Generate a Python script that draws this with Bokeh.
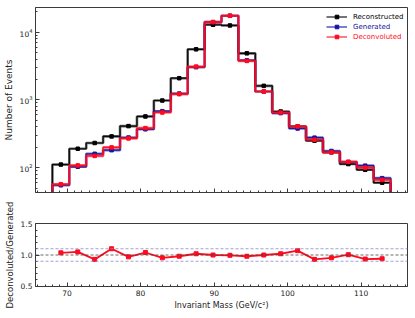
import numpy as np
from bokeh.plotting import figure
from bokeh.layouts import column
from bokeh.models import (Range1d, Span, Legend, LegendItem, FixedTicker, LogTicker,
                          PrintfTickFormatter, AllLabels)
from bokeh.embed import file_html
from bokeh.resources import INLINE

# ---- data ----
bin_edges = [68.0, 70.3, 72.6, 74.9, 77.2, 79.5, 81.8, 84.1, 86.4, 88.7, 91.0,
             93.3, 95.6, 97.9, 100.2, 102.5, 104.8, 107.1, 109.4, 111.7, 114.0]
reconstructed = [111, 190, 231, 289, 410, 569, 977, 2085, 5560, 12800,
                 12500, 4850, 1607, 673, 405, 250, 168, 113, 93, 60]
generated = [55, 103, 160, 181, 278, 368, 680, 1237, 3030, 14000,
             17400, 3830, 1327, 637, 378, 277, 176, 121, 107, 70]
deconvoluted = [57, 108, 149, 199, 270, 383, 650, 1212, 3090, 14000,
                17400, 3750, 1327, 650, 405, 258, 168, 122, 100, 66]
ratio = [1.035, 1.05, 0.93, 1.10, 0.97, 1.04, 0.955, 0.98, 1.02, 1.00,
         0.995, 0.98, 1.00, 1.02, 1.07, 0.93, 0.955, 1.005, 0.935, 0.94]
x_ticks = [70, 80, 90, 100, 110]
ratio_ticks = [0.5, 1.0, 1.5]
ratio_lines = [0.9, 1.0, 1.1]

edges = np.array(bin_edges)
centers = (edges[:-1] + edges[1:]) / 2

FONT = "DejaVu Sans"
C_BLACK = "#000000"
C_BLUE = "#1414a0"
C_RED = "#ff0a1e"
FRAME = "#3a3a3a"
TICK_FS = "7.5px"
LABEL_FS = "9px"
X_LO, X_HI = 65.7, 116.3
R_LO, R_HI = 0.495, 1.505

def step_path(vals, floor=1.0):
    xs, ys = [edges[0]], [floor]
    for i, v in enumerate(vals):
        xs += [edges[i], edges[i + 1]]
        ys += [v, v]
    xs.append(edges[-1]); ys.append(floor)
    return xs, ys

xr = Range1d(X_LO, X_HI)

def style(p):
    p.toolbar_location = None
    p.outline_line_color = FRAME
    p.outline_line_width = 1
    p.xgrid.visible = False
    p.ygrid.visible = False
    p.background_fill_color = "white"
    p.border_fill_color = "white"
    for ax in (p.xaxis[0], p.yaxis[0]):
        ax.axis_line_color = FRAME
        ax.major_tick_in = 4
        ax.major_tick_out = 0
        ax.minor_tick_in = 2
        ax.minor_tick_out = 0
        ax.major_tick_line_color = FRAME
        ax.minor_tick_line_color = FRAME
        ax.major_label_text_font = FONT
        ax.major_label_text_font_size = TICK_FS
        ax.major_label_text_color = "#222222"
        ax.major_label_standoff = 3
        ax.major_label_policy = AllLabels()
        ax.axis_label_text_font = FONT
        ax.axis_label_text_font_size = LABEL_FS
        ax.axis_label_text_font_style = "normal"
        ax.axis_label_text_color = "#222222"
        ax.axis_label_standoff = 3
        try:
            ax.background_fill_alpha = 0
        except AttributeError:
            pass

top = figure(frame_width=372, frame_height=185, y_axis_type="log", x_range=xr,
             y_range=Range1d(43, 23000), output_backend="svg",
             toolbar_location=None, min_border_left=27, min_border_right=2,
             min_border_top=7, min_border_bottom=8)
style(top)
top.xaxis.ticker = FixedTicker(ticks=x_ticks, minor_ticks=list(range(66, 117)))
top.xaxis.major_label_overrides = {t: "" for t in x_ticks}
top.xaxis.major_label_standoff = 0
top.yaxis.ticker = LogTicker(num_minor_ticks=10)
top.yaxis.axis_label = "Number of Events"

items = []
for vals, col in ((reconstructed, C_BLACK), (generated, C_BLUE), (deconvoluted, C_RED)):
    xs, ys = step_path(vals)
    top.line(xs, ys, line_color=col, line_width=2.6, line_alpha=0.6)
    lr = top.line(xs, ys, line_color=col, line_width=1.2, line_alpha=0.9)
    sr = top.scatter(centers, vals, marker="square", size=3.5, color=col)
    items.append((lr, sr))

labels = ["Reconstructed", "Generated", "Deconvoluted"]
cols = [C_BLACK, C_BLUE, C_RED]
for i, ((lr, sr), lab, col) in enumerate(zip(items, labels, cols)):
    lg = Legend(items=[LegendItem(label=lab, renderers=[lr, sr])],
                location=(291, 185 - 14 - i * 10), padding=0, margin=0, spacing=0,
                glyph_width=21, glyph_height=9, label_height=9,
                label_standoff=6, label_text_font=FONT, label_text_font_size="7px",
                label_text_color=col, background_fill_alpha=0,
                border_line_alpha=0)
    top.add_layout(lg)

bot = figure(frame_width=372, frame_height=63, x_range=xr,
             y_range=Range1d(R_LO, R_HI),
             output_backend="svg", toolbar_location=None,
             min_border_left=27, min_border_right=2, min_border_top=23,
             min_border_bottom=2)
style(bot)
bot.xaxis.ticker = FixedTicker(ticks=x_ticks, minor_ticks=list(range(66, 117)))
bot.yaxis.ticker = FixedTicker(ticks=ratio_ticks, minor_ticks=[0.6, 0.7, 0.8, 0.9, 1.1, 1.2, 1.3, 1.4])
bot.yaxis.formatter = PrintfTickFormatter(format="%.1f")
bot.xaxis.axis_label = "Invariant Mass (GeV/c²)"
bot.xaxis.axis_label_text_font_size = "8px"
bot.yaxis.axis_label = "Deconvoluted/Generated"
bot.yaxis.axis_label_text_font_size = "8.5px"
bot.xaxis.axis_label_standoff = 2
for v in ratio_lines:
    bot.add_layout(Span(location=v, dimension="width",
                        line_color="#444444" if v == 1.0 else "#8888cc",
                        line_dash="3 2", line_width=0.8))
bot.line(centers, ratio, line_color=C_RED, line_width=1.8)
bot.scatter(centers, ratio, marker="square", size=4, color=C_RED)

layout = column(top, bot, spacing=0)
open("out.html", "w").write(file_html(layout, INLINE))
